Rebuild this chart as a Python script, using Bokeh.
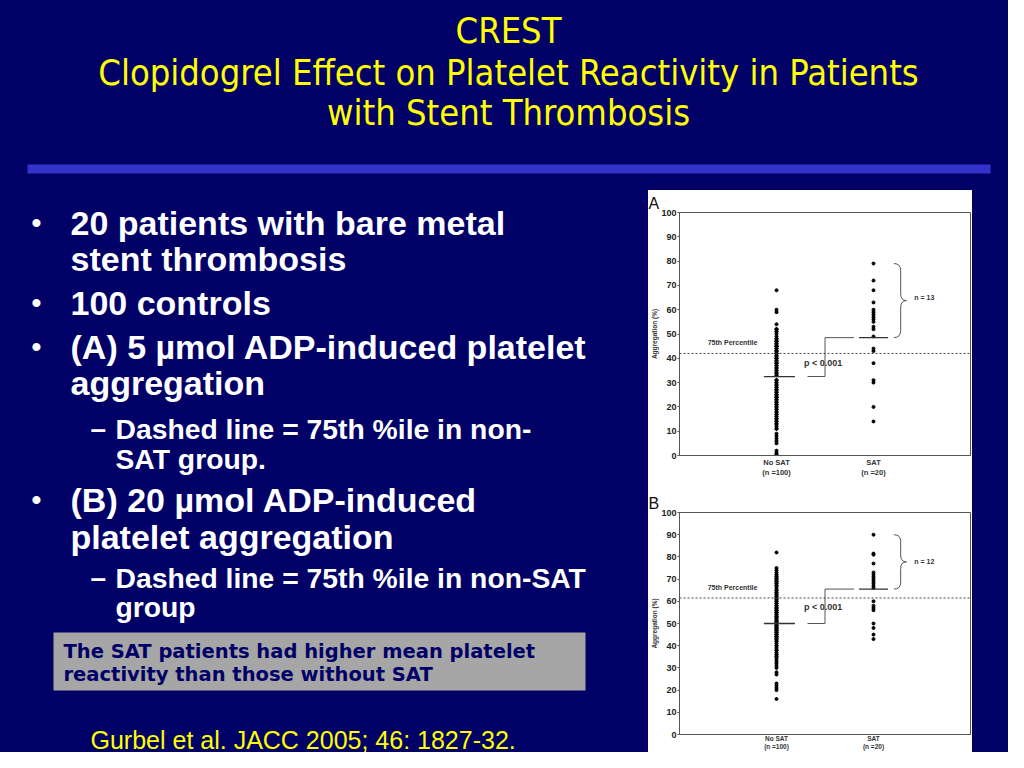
from bokeh.plotting import figure
from bokeh.layouts import column, row
from bokeh.models import Range1d, FixedTicker, Span
from bokeh.core.properties import value
from bokeh.embed import file_html
from bokeh.resources import INLINE

NAVY = "#000066"
YELLOW = "#FFFF00"

# ---------------- slide text ----------------
title_lines = ["CREST",
               "Clopidogrel Effect on Platelet Reactivity in Patients",
               "with Stent Thrombosis"]

# (level, text)  level 0 = main bullet start, 1 = main continuation,
#                2 = sub bullet start, 3 = sub continuation
bullet_lines = [
    (0, "20 patients with bare metal"),
    (1, "stent thrombosis"),
    (0, "100 controls"),
    (0, "(A) 5 \u00b5mol ADP-induced platelet"),
    (1, "aggregation"),
    (2, "Dashed line  = 75th %ile in non-"),
    (3, "SAT group."),
    (0, "(B) 20 \u00b5mol ADP-induced"),
    (1, "platelet aggregation"),
    (2, "Dashed line = 75th %ile in non-SAT"),
    (3, "group"),
]
box_lines = ["The SAT patients had higher mean platelet",
             "reactivity than those without SAT"]
citation = "Gurbel et al. JACC 2005; 46: 1827-32."

# ---------------- chart data ----------------
groups = [1, 2]
group_labels = {1: "No SAT\n(n =100)", 2: "SAT\n(n =20)"}
yticks = list(range(0, 101, 10))

a_nosat = [68, 60, 59, 54, 52, 52, 51, 51, 50, 49, 48, 48, 47, 47, 46, 46, 45, 45, 44, 44,
           43, 43, 42, 42, 42, 41, 41, 40, 40, 39, 39, 38, 38, 37, 37, 36, 35, 35, 34, 34,
           33, 31, 31, 30, 30, 29, 28, 28, 27, 27, 26, 26, 25, 25, 24, 24, 23, 23, 22, 22,
           21, 21, 20, 20, 19, 19, 18, 18, 17, 17, 16, 16, 15, 15, 14, 14, 13, 13, 12, 11,
           11, 9, 8, 7, 6, 5, 2, 1, 0.5, 47, 45, 43, 40, 38, 36, 33, 29, 27, 24, 21]
a_sat = [79, 72, 68, 63, 60, 59, 58, 57, 56, 55, 53, 52, 49,
         44, 43, 38, 31, 30, 20, 14]
a_means = [32.5, 48.5]
a_p75 = 42
a_n = "n = 13"

b_nosat = [82, 75, 74, 73, 72, 72, 71, 71, 70, 70, 69, 69, 68, 68, 67, 67, 66, 65, 65, 64,
           64, 63, 63, 62, 62, 61, 60, 60, 59, 58, 58, 57, 57, 56, 56, 55, 55, 54, 54, 53,
           53, 52, 52, 51, 51, 50, 50, 50, 49, 49, 48, 48, 47, 47, 46, 46, 45, 45, 44, 44,
           43, 42, 41, 40, 39, 38, 37, 36, 35, 35, 34, 33, 32, 31, 30, 28, 27, 23, 22, 21,
           20, 16, 61, 59, 57, 55, 53, 51, 50, 49, 48, 47, 46, 45, 44, 43, 42, 40, 38, 36]
b_sat = [90, 81.5, 81, 77, 73, 72, 71, 70, 69, 68, 67, 66,
         60, 58, 57, 56, 50, 48, 45, 43]
b_means = [50, 65.5]
b_p75 = 61.5
b_n = "n = 12"


def bare(p, bg):
    p.background_fill_color = bg
    p.border_fill_color = bg
    p.outline_line_color = None
    p.grid.visible = False
    return p


# ---------------- title strip ----------------
top = bare(figure(width=1008, height=190, x_range=Range1d(0, 1008), y_range=Range1d(190, 0),
                  x_axis_type=None, y_axis_type=None, output_backend="svg",
                  toolbar_location=None, min_border=0), NAVY)
top.text(x=[508] * 3, y=[30, 72, 112], text=title_lines, text_color=YELLOW,
         text_font=value("DejaVu Sans Condensed"), text_font_size="36px",
         text_align="center", text_baseline="middle")
top.quad(left=[27], right=[990], top=[164], bottom=[173], fill_color="#3333CC", line_color=None)

# ---------------- left text area ----------------
left = bare(figure(width=648, height=562, x_range=Range1d(0, 648), y_range=Range1d(752, 190),
                   x_axis_type=None, y_axis_type=None, output_backend="svg",
                   toolbar_location=None, min_border=0), NAVY)
line_y = [222, 258, 302, 346, 382, 428, 458, 499, 536, 577, 606]
main_x, main_t, main_y = [], [], []
sub_x, sub_t, sub_y = [], [], []
bul_x, bul_t, bul_y = [], [], []
for (lvl, txt), yy in zip(bullet_lines, line_y):
    if lvl in (0, 1):
        main_x.append(70); main_t.append(txt); main_y.append(yy)
        if lvl == 0:
            bul_x.append(31); bul_t.append("\u2022"); bul_y.append(yy)
    else:
        sub_x.append(115); sub_t.append(txt); sub_y.append(yy)
        if lvl == 2:
            bul_x.append(90); bul_t.append("\u2013"); bul_y.append(yy)
left.text(x=main_x, y=main_y, text=main_t, text_color="white",
          text_font=value("Liberation Sans"), text_font_style="bold",
          text_font_size="34px", text_baseline="middle")
left.text(x=sub_x, y=sub_y, text=sub_t, text_color="white",
          text_font=value("Liberation Sans"), text_font_style="bold",
          text_font_size="28.3px", text_baseline="middle")
left.text(x=bul_x, y=bul_y, text=bul_t, text_color="white",
          text_font=value("Liberation Sans"), text_font_style="bold",
          text_font_size="28px", text_baseline="middle")
left.quad(left=[53], right=[585], top=[632], bottom=[690], fill_color="#A6A6A6", line_color=None)
left.text(x=[63, 63], y=[651, 674], text=box_lines, text_color=NAVY,
          text_font=value("DejaVu Sans"), text_font_style="bold",
          text_font_size="19.5px", text_baseline="middle")
left.text(x=[90], y=[739], text=[citation], text_color=YELLOW,
          text_font=value("Liberation Sans"), text_font_size="25px", text_baseline="middle")


# ---------------- scatter panels ----------------
def make_panel(letter, nosat, sat, means, p75, nlabel, h, btop, bbot, p_y, pct_y, n_y,
               xfont, xstand):
    p = figure(width=324, height=h, x_range=Range1d(0, 3), y_range=Range1d(0, 100),
               output_backend="svg", toolbar_location=None,
               min_border_left=29, min_border_right=2, min_border_top=btop,
               min_border_bottom=bbot)
    p.background_fill_color = "white"
    p.border_fill_color = "white"
    p.grid.visible = False
    p.outline_line_color = "#555555"

    p.title.text = letter
    p.title.text_font = "Liberation Sans"
    p.title.text_font_style = "normal"
    p.title.text_font_size = "16px"
    p.title.text_color = "#111111"
    p.title.align = "left"
    p.title.offset = -31
    p.title.standoff = 2

    ya = p.yaxis[0]
    ya.ticker = FixedTicker(ticks=yticks)
    ya.major_label_text_font = "Liberation Sans"
    ya.major_label_text_font_style = "bold"
    ya.major_label_text_font_size = "9px"
    ya.major_label_text_color = "#222222"
    ya.major_label_standoff = 1
    ya.major_tick_out = 2
    ya.major_tick_in = 0
    ya.minor_tick_line_color = None
    ya.axis_line_color = "#555555"
    ya.major_tick_line_color = "#555555"
    ya.axis_label = "Aggregation (%)"
    ya.axis_label_text_font = "Liberation Sans"
    ya.axis_label_text_font_style = "bold"
    ya.axis_label_text_font_size = "6.5px"
    ya.axis_label_text_color = "#333333"
    ya.axis_label_standoff = 0

    xa = p.xaxis[0]
    xa.ticker = FixedTicker(ticks=groups)
    xa.major_label_overrides = group_labels
    xa.major_label_text_font = "Liberation Sans"
    xa.major_label_text_font_style = "bold"
    xa.major_label_text_font_size = xfont
    xa.major_label_text_color = "#333333"
    xa.major_label_standoff = xstand
    xa.major_tick_out = 0
    xa.major_tick_in = 0
    xa.major_tick_line_color = None
    xa.minor_tick_line_color = None
    xa.axis_line_color = "#555555"

    p.add_layout(Span(location=p75, dimension="width", line_color="#444444",
                      line_dash="2 2", line_width=1))

    p.scatter([groups[0]] * len(nosat), nosat, size=3.0, color="black")
    p.scatter([groups[1]] * len(sat), sat, size=3.0, color="black")

    # group means
    p.segment(x0=[0.87, 1.85], y0=means, x1=[1.19, 2.15], y1=means,
              line_color="#333333", line_width=1.3)
    # connector
    p.line(x=[1.32, 1.50, 1.50, 1.80], y=[means[0], means[0], means[1], means[1]],
           line_color="#555555", line_width=1)

    # curly brace from SAT mean to SAT max
    lo, hi = means[1], max(sat)
    mid = (lo + hi) / 2
    xe, xs, xt, r = 2.21, 2.28, 2.34, 3.0
    p.quadratic(x0=[xe, xs, xs, xs], y0=[hi, mid + r, mid - r, lo + r],
                x1=[xs, xt, xt, xe], y1=[hi - r, mid, mid, lo],
                cx=[xs, xs, xs, xs], cy=[hi, mid, mid, lo],
                line_color="#555555", line_width=1)
    p.segment(x0=[xs, xs], y0=[hi - r, mid - r], x1=[xs, xs], y1=[mid + r, lo + r],
              line_color="#555555", line_width=1)

    p.text(x=[2.42], y=[n_y], text=[nlabel], text_font=value("Liberation Sans"),
           text_font_size="7px", text_font_style="bold", text_color="#333333",
           text_baseline="middle")
    p.text(x=[1.48], y=[p_y], text=["p < 0.001"], text_font=value("Liberation Sans"),
           text_font_size="9px", text_font_style="bold", text_color="#333333",
           text_baseline="middle", text_align="center")
    p.text(x=[0.29], y=[pct_y], text=["75th Percentile"], text_font=value("Liberation Sans"),
           text_font_size="7px", text_font_style="bold", text_color="#333333",
           text_baseline="middle")
    return p


pa = make_panel("A", a_nosat, a_sat, a_means, a_p75, a_n, 300, 22, 35, 38, 46.3, 65,
                "7.5px", 2)
pb = make_panel("B", b_nosat, b_sat, b_means, b_p75, b_n, 262, 22, 17, 57.6, 66, 77.8,
                "6.5px", 0)

right = bare(figure(width=36, height=562, x_range=Range1d(0, 1), y_range=Range1d(0, 1),
                    x_axis_type=None, y_axis_type=None, output_backend="svg",
                    toolbar_location=None, min_border=0), NAVY)

bg = {"background-color": NAVY}
layout = column(top,
                row(left, column(pa, pb, styles={"background-color": "white"}), right, styles=bg),
                styles=bg)

open("out.html", "w").write(file_html(layout, INLINE))
